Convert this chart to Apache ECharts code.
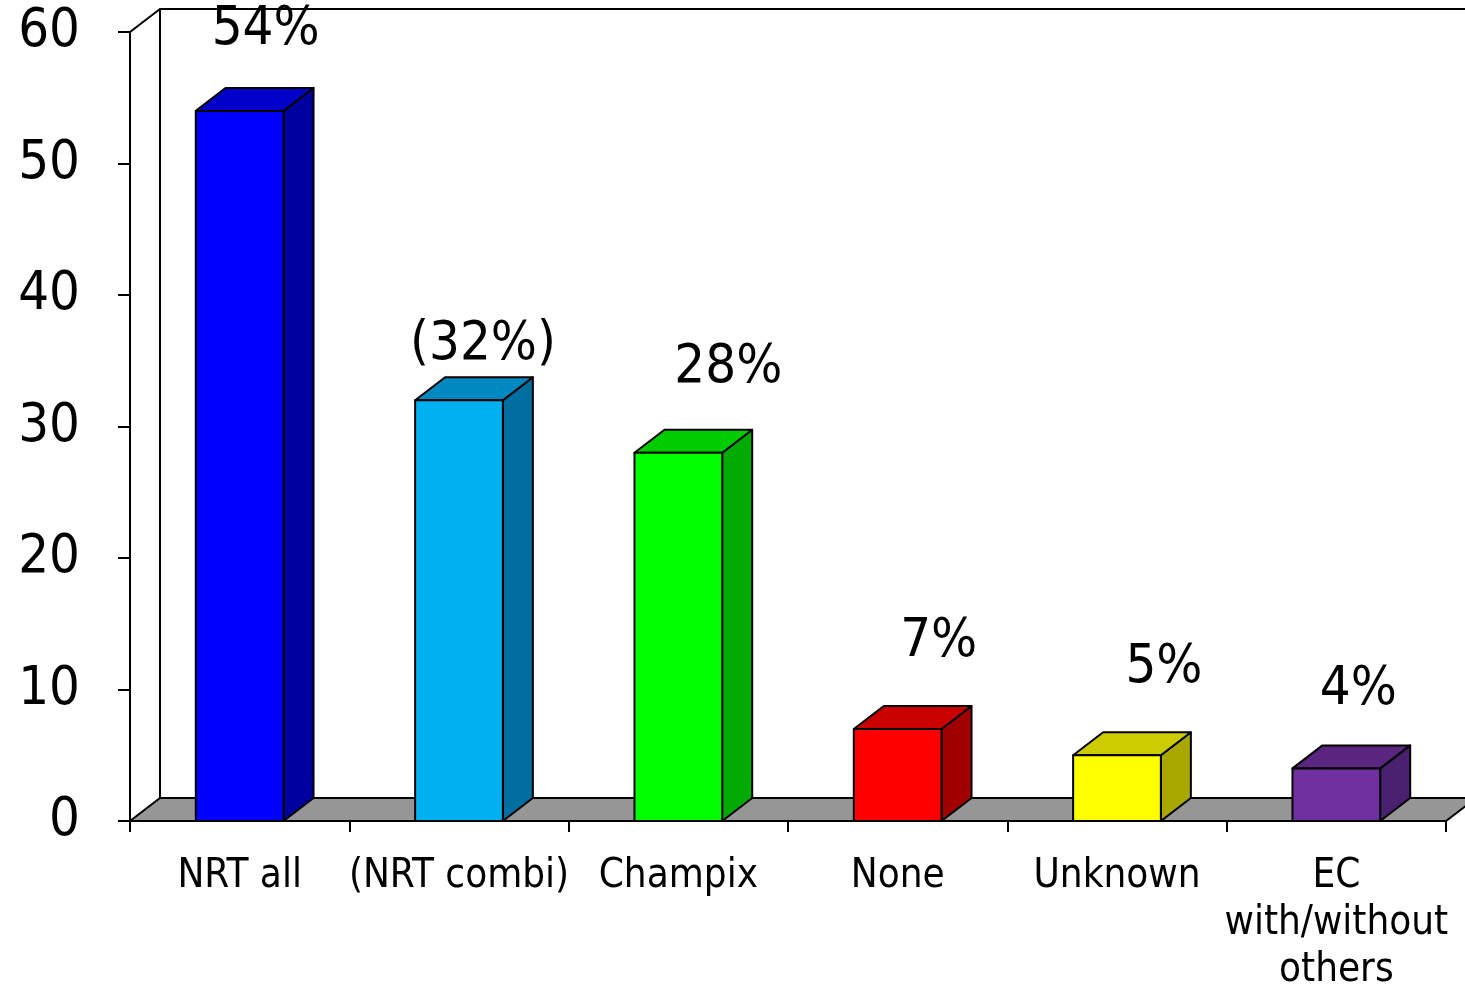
<!DOCTYPE html>
<html>
<head>
<meta charset="utf-8">
<script src="https://cdn.jsdelivr.net/npm/echarts@6/dist/echarts.min.js"></script>
<style>
  html, body { margin: 0; padding: 0; background: #fff; }
  #chart { width: 1465px; height: 987px; }
</style>
</head>
<body>
<div id="chart"></div>
<script>
// data
const categories = ['NRT all', '(NRT combi)', 'Champix', 'None', 'Unknown', 'EC\nwith/without\nothers'];
const values = [54, 32, 28, 7, 5, 4];
const valueLabels = ['54%', '(32%)', '28%', '7%', '5%', '4%'];
const yTicks = [0, 10, 20, 30, 40, 50, 60];

// styles
const frontColors = ['#0000ff', '#00b0f0', '#00ff00', '#ff0000', '#ffff00', '#7030a0'];
const topColors   = ['#0000c8', '#0088c0', '#00cc00', '#c80000', '#cccc00', '#5a2680'];
const sideColors  = ['#0000a0', '#006e9e', '#00aa00', '#a00000', '#a8a800', '#4a2070'];
// nudges for the value labels (px): [dx from bar centre, dy from back top]
const labelNudge = [[26, -58], [24, -32], [50, -62], [41, -64], [47, -64], [22, -55]];
const DX = 30, DY = -23;       // depth of the 3d look
const FONT = '"DejaVu Sans Condensed", "DejaVu Sans", sans-serif';

const chart = echarts.init(document.getElementById('chart'));

function renderFrame(params, api) {
  const p0 = api.coord([0, 0]);
  const bw = api.size([1, 0])[0];
  const left = p0[0] - bw / 2;
  const right = left + categories.length * bw;
  const base = p0[1];
  const top = api.coord([0, yTicks[yTicks.length - 1]])[1];
  const line = { stroke: '#000', lineWidth: 2, fill: null };
  return {
    type: 'group',
    children: [
      { type: 'polygon', shape: { points: [[left, base], [left + DX, base + DY], [right + DX, base + DY], [right, base]] },
        style: { fill: '#969696', stroke: '#000', lineWidth: 2 } },
      { type: 'polyline', shape: { points: [[left, top], [left + DX, top + DY], [right + DX + 40, top + DY]] }, style: line },
      { type: 'line', shape: { x1: left + DX, y1: top + DY, x2: left + DX, y2: base + DY }, style: line }
    ]
  };
}

function renderBar(params, api) {
  const i = api.value(0);
  const v = api.value(1);
  const c = api.coord([i, v]);
  const b = api.coord([i, 0]);
  const w = api.size([1, 0])[0] * 0.4;
  const x0 = c[0] - w / 2, x1 = c[0] + w / 2;
  const yT = c[1], yB = b[1];
  const st = { stroke: '#000', lineWidth: 2, lineJoin: 'round' };
  return {
    type: 'group',
    children: [
      { type: 'polygon', shape: { points: [[x1, yT], [x1 + DX, yT + DY], [x1 + DX, yB + DY], [x1, yB]] },
        style: Object.assign({ fill: sideColors[i] }, st) },
      { type: 'polygon', shape: { points: [[x0, yT], [x0 + DX, yT + DY], [x1 + DX, yT + DY], [x1, yT]] },
        style: Object.assign({ fill: topColors[i] }, st) },
      { type: 'rect', shape: { x: x0, y: yT, width: w, height: yB - yT },
        style: Object.assign({ fill: frontColors[i] }, st) },
      { type: 'text', x: c[0] + labelNudge[i][0], y: yT + DY + labelNudge[i][1],
        style: { text: valueLabels[i], fill: '#000', font: '54px ' + FONT, align: 'center', verticalAlign: 'middle' } }
    ]
  };
}

chart.setOption({
  animation: false,
  grid: { left: 130, right: 19, top: 32, bottom: 166, outerBoundsMode: 'none', containLabel: false },
  xAxis: {
    type: 'category',
    data: categories,
    axisLine: { show: true, lineStyle: { color: '#000', width: 2 } },
    axisTick: { show: true, length: 11, lineStyle: { color: '#000', width: 2 } },
    axisLabel: { color: '#000', fontSize: 40, fontFamily: FONT, lineHeight: 47, margin: 32, interval: 0 }
  },
  yAxis: {
    type: 'value',
    min: yTicks[0],
    max: yTicks[yTicks.length - 1],
    interval: 10,
    splitLine: { show: false },
    axisLine: { show: true, lineStyle: { color: '#000', width: 2 } },
    axisTick: { show: true, length: 12, lineStyle: { color: '#000', width: 2 } },
    axisLabel: { color: '#000', fontSize: 54, fontFamily: FONT, margin: 50 }
  },
  series: [
    { type: 'custom', z: 1, renderItem: renderFrame, data: [[0, 0]], silent: true },
    { type: 'custom', z: 3, renderItem: renderBar, data: values.map((v, i) => [i, v]), clip: false }
  ]
});
</script>
</body>
</html>
